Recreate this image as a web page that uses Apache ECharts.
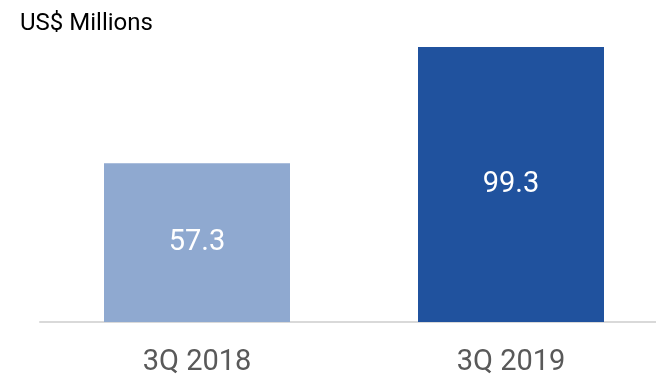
<!DOCTYPE html>
<html>
<head>
<meta charset="utf-8">
<script src="https://cdn.jsdelivr.net/npm/echarts@6/dist/echarts.min.js"></script>
<style>
html,body{margin:0;padding:0;background:#fff;}
#chart{width:656px;height:378px;}
</style>
</head>
<body>
<div id="chart"></div>
<script>
// data
const categories = ["3Q 2018", "3Q 2019"];
const values = [57.3, 99.3];
const barColors = ["#8fa9d0", "#20529e"];

const chart = echarts.init(document.getElementById("chart"));

chart.setOption({
  animation: false,
  title: {
    text: "US$ Millions",
    left: 15,
    top: 7,
    textStyle: {
      fontFamily: "Roboto",
      fontSize: 24,
      fontWeight: "normal",
      color: "#000"
    }
  },
  grid: { left: 40, width: 628, top: 45, bottom: 56, outerBoundsMode: "none", containLabel: false },
  xAxis: {
    type: "category",
    data: categories,
    axisLine: { lineStyle: { color: "#d9d9d9", width: 2 } },
    axisTick: { show: false },
    axisLabel: {
      margin: 26,
      fontFamily: "Roboto",
      fontSize: 29,
      color: "#595959"
    }
  },
  yAxis: {
    type: "value",
    min: 0,
    max: 100,
    show: false
  },
  series: [{
    type: "bar",
    barWidth: 186,
    data: values.map((v, i) => ({ value: v, itemStyle: { color: barColors[i] } })),
    label: {
      show: true,
      position: "inside",
      fontFamily: "Roboto",
      fontSize: 29,
      color: "#fff"
    }
  }]
});
</script>
</body>
</html>
